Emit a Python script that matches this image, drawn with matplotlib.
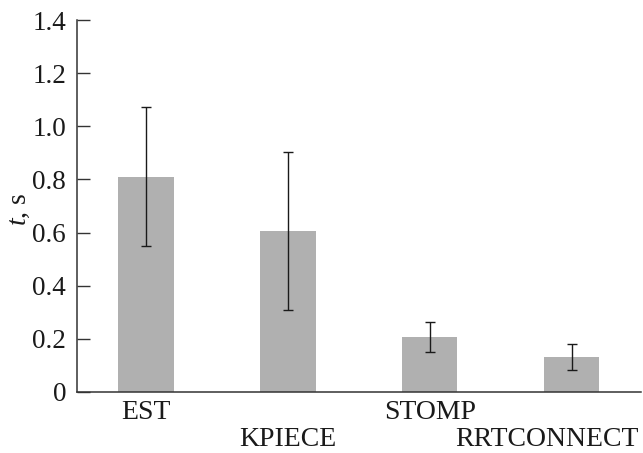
import matplotlib
matplotlib.use("Agg")
import matplotlib.pyplot as plt
import matplotlib.transforms as mtransforms
import numpy as np

# Planner timings
planners = ["EST", "KPIECE", "STOMP", "RRTCONNECT"]
mean_time = [0.81, 0.605, 0.207, 0.132]
err_time = [0.262, 0.298, 0.058, 0.049]
yticks = [0, 0.2, 0.4, 0.6, 0.8, 1.0, 1.2, 1.4]
ytick_labels = ["0", "0.2", "0.4", "0.6", "0.8", "1.0", "1.2", "1.4"]

plt.rcParams['font.family'] = ['Liberation Serif', 'DejaVu Serif']
plt.rcParams['mathtext.fontset'] = 'custom'
plt.rcParams['mathtext.it'] = 'Liberation Serif:italic'
plt.rcParams['mathtext.rm'] = 'Liberation Serif'

fig = plt.figure(figsize=(6.43, 4.53), dpi=100)
ax = fig.add_axes([0.12, 0.1347, 0.877, 0.8211])

x = np.arange(len(planners))
ax.bar(x, mean_time, width=0.39, color="#b0b0b0")
ax.errorbar(x, mean_time, yerr=err_time, fmt="none", ecolor="#1a1a1a",
            elinewidth=1.0, capsize=3.3, capthick=1.0)

ax.set_xlim(-0.486, 3.49)
ax.set_ylim(0, 1.4)
ax.set_yticks(yticks)
ax.set_yticklabels(ytick_labels, fontsize=19.5, color="#1a1a1a")

ax.set_xticks(x)
ax.set_xticklabels(planners, fontsize=20, color="#1a1a1a")
ax.tick_params(axis="x", length=0, pad=6)
ax.tick_params(axis="y", direction="in", length=9, width=1.0, color="#333333", pad=8)

# alternate the x labels on two rows
for i, tick in enumerate(ax.xaxis.get_major_ticks()):
    if i % 2 == 1:
        tick.set_pad(25)

# last label is pushed left so it stays inside the figure
last = ax.get_xticklabels()[-1]
last.set_transform(last.get_transform() +
                   mtransforms.ScaledTranslation(-0.25, 0, fig.dpi_scale_trans))

for side in ["top", "right"]:
    ax.spines[side].set_visible(False)
for side in ["left", "bottom"]:
    ax.spines[side].set_color("#333333")
    ax.spines[side].set_linewidth(1.1)

ax.set_ylabel(r"$t$, s", fontsize=20, color="#1a1a1a")
ax.yaxis.set_label_coords(-0.08, 0.49)

fig.savefig("out.png", dpi=100)
